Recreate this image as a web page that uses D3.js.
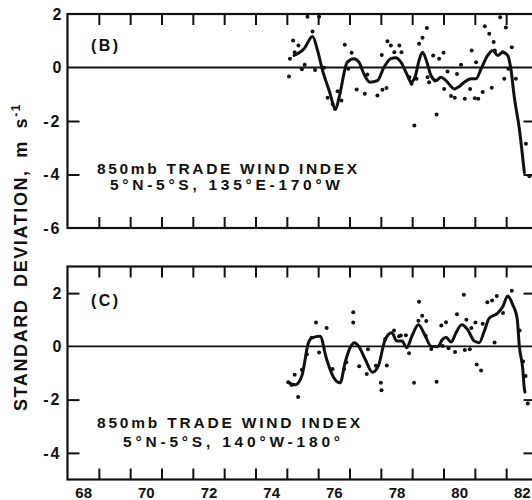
<!DOCTYPE html>
<html><head><meta charset="utf-8">
<script src="https://cdn.jsdelivr.net/npm/d3@7"></script>
<style>
body{margin:0;background:#fff}
text{font-family:"Liberation Sans",Arial,sans-serif;font-weight:bold;fill:#111}
</style>
</head><body>
<svg id="c" width="532" height="500"></svg>
<script>
// ---------- data ----------
const yearTicks = [69,70,71,72,73,74,75,76,77,78,79,80,81,82];
const yearLabels = [68,70,72,74,76,78,80,82];
const yLabelsB = [2,0,-2,-4,-6];
const yMarksB = [-2,-4];
const yLabelsC = [2,0,-2,-4];
const yMarksC = [2,-2,-4];

// Panel B: monthly anomalies (dots) [year, m/s]
const dotsB = [[75.07,-0.34],[75.10,0.33],[75.20,1.01],[75.25,0.57],[75.37,0.82],[75.48,-0.07],[75.57,0.10],[75.66,1.90],[75.82,1.35],[75.90,-0.09],[76.03,1.90],
[76.19,-0.01],[76.30,-1.13],[76.46,-1.36],[76.54,-1.55],[76.62,-0.89],[76.74,-1.23],[76.85,0.85],[76.96,-0.05],[77.07,0.55],[77.23,-0.82],[77.49,-0.98],[77.57,-0.26],
[77.89,-1.05],[78.05,-0.83],[78.18,-0.77],[78.03,0.47],[78.21,0.98],[78.32,0.82],[78.43,0.57],[78.59,0.82],[78.66,0.57],[78.91,-0.36],[78.98,-0.61],[79.07,-2.17],
[79.14,-0.42],[79.22,0.89],[79.33,1.11],[79.47,1.48],[79.49,-0.36],[79.54,-0.55],[79.67,0.45],[79.73,-0.49],[79.78,-1.76],[79.86,0.33],[80.00,0.55],[80.02,-0.80],[80.13,-0.15],
[80.24,-1.07],[80.36,-1.13],[80.43,-0.24],[80.56,0.10],[80.68,-1.17],[80.85,-0.80],[80.90,0.64],[81.00,-1.15],[81.04,0.20],[81.11,-1.17],[81.25,-0.92],[81.32,1.54],
[81.46,1.26],[81.54,-0.76],[81.60,0.95],[81.64,0.64],[81.81,1.88],[81.89,0.57],[81.94,-0.42],[81.99,1.50],[82.07,-0.05],[82.18,0.76],[82.31,-0.42],[82.63,-2.85],[82.74,-4.07]];
// Panel B: smoothed curve
const curveB = [[75.23,0.45],[75.55,0.70],[75.82,1.16],[75.98,0.64],[76.14,-0.11],[76.35,-0.86],[76.56,-1.55],[76.67,-1.11],[76.93,0.20],[77.14,0.33],[77.30,0.20],
[77.46,-0.24],[77.65,-0.55],[77.89,-0.49],[78.10,0.01],[78.32,0.33],[78.48,0.36],[78.64,0.20],[78.85,-0.30],[78.96,-0.55],[79.09,-0.36],[79.22,0.26],[79.33,0.57],
[79.47,0.20],[79.60,-0.30],[79.76,-0.49],[79.92,-0.36],[80.08,-0.49],[80.35,-0.80],[80.50,-0.71],[80.66,-0.55],[80.88,-0.42],[81.04,-0.42],[81.20,-0.05],[81.41,0.45],
[81.57,0.64],[81.73,0.45],[81.89,0.57],[82.05,0.45],[82.15,-0.05],[82.26,-1.11],[82.42,-2.29],[82.58,-3.93]];

// Panel C
const dotsC = [[75.05,-1.35],[75.15,-1.45],[75.25,-1.07],[75.36,-1.90],[75.48,-0.88],[75.64,-0.30],[75.79,0.32],[75.93,0.90],[76.03,-0.23],[76.27,0.69],[76.46,-0.85],
[76.83,-0.85],[76.90,-0.60],[77.12,1.28],[77.12,0.90],[77.31,-0.75],[77.55,-1.04],[77.59,-0.11],[77.84,-0.73],[78.00,-1.37],[78.02,-1.65],[78.14,0.28],[78.19,-0.72],
[78.42,0.60],[78.58,0.38],[78.64,0.41],[78.80,0.42],[78.90,-0.26],[79.06,-1.37],[79.20,0.96],[79.22,1.68],[79.32,1.15],[79.45,0.95],[79.43,0.40],[79.61,-0.10],
[79.78,-1.33],[79.93,0.78],[80.08,0.91],[79.97,0.01],[80.16,-0.07],[80.37,-0.21],[80.43,1.21],[80.65,1.94],[80.73,1.00],[80.68,-0.14],[80.84,-0.11],[80.89,0.69],
[81.02,0.90],[81.06,-0.68],[81.20,-0.91],[81.25,0.85],[81.40,1.66],[81.55,1.72],[81.63,0.15],[81.70,1.89],[81.90,1.25],[82.18,2.09],[82.43,0.60],[82.54,-0.57],
[82.62,-1.11],[82.69,-2.15]];
const curveC = [[75.03,-1.35],[75.27,-1.44],[75.48,-1.10],[75.69,0.14],[75.80,0.32],[76.06,0.38],[76.27,-0.48],[76.49,-1.16],[76.70,-1.37],[76.86,-0.60],[77.02,-0.05],
[77.16,0.14],[77.29,0.01],[77.50,-0.48],[77.73,-0.97],[77.92,-0.73],[78.14,0.26],[78.35,0.51],[78.51,0.20],[78.67,0.20],[78.83,-0.05],[78.99,0.38],[79.20,0.81],
[79.40,0.44],[79.60,0.01],[79.81,-0.01],[79.97,0.26],[80.08,0.34],[80.24,0.16],[80.40,0.51],[80.58,0.81],[80.77,0.63],[80.98,0.20],[81.14,0.14],[81.30,0.57],
[81.46,1.06],[81.73,1.25],[81.89,1.49],[82.05,1.89],[82.21,1.56],[82.35,1.06],[82.42,0.01],[82.53,-0.85],[82.58,-1.59],[82.60,-1.72]];

const labelB = "(B)", labelC = "(C)";
const titleB = ["850mb TRADE WIND INDEX","5°N-5°S, 135°E-170°W"];
const titleC = ["850mb TRADE WIND INDEX","5°N-5°S, 140°W-180°"];

// ---------- drawing ----------
const svg = d3.select("#c");
svg.append("rect").attr("width",532).attr("height",500).attr("fill","#fff");
const ink = "#111";
const x = d3.scaleLinear().domain([68,83]).range([67.5,537.5]);

function panel(o){
  const y = d3.scaleLinear().domain(o.ydom).range(o.yrange);
  const g = svg.append("g");
  const top = o.yrange[1], bot = o.yrange[0];
  g.append("rect").attr("x",x(68)).attr("y",top).attr("width",x(83)-x(68)).attr("height",bot-top)
    .attr("fill","none").attr("stroke",ink).attr("stroke-width",2.2);
  g.append("line").attr("x1",x(68)).attr("x2",x(83)).attr("y1",y(0)).attr("y2",y(0))
    .attr("stroke",ink).attr("stroke-width",1.8);
  const ax1 = g.append("g").attr("transform",`translate(0,${top})`)
    .call(d3.axisBottom(x).tickValues(yearTicks).tickSize(11).tickFormat(""));
  const ax2 = g.append("g").attr("transform",`translate(0,${bot})`)
    .call(d3.axisTop(x).tickValues(yearTicks).tickSize(11).tickFormat(""));
  const ax3 = g.append("g").attr("transform",`translate(${x(68)},0)`)
    .call(d3.axisRight(y).tickValues(o.marks).tickSize(12).tickFormat(""));
  const ax4 = g.append("g").attr("transform",`translate(${x(83)},0)`)
    .call(d3.axisLeft(y).tickValues(o.marks).tickSize(14).tickFormat(""));
  [ax1,ax2,ax3,ax4].forEach(a=>{a.select(".domain").remove();a.selectAll("line").attr("stroke",ink).attr("stroke-width",2);});
  const ay = g.append("g").attr("transform",`translate(${x(68)},0)`)
    .call(d3.axisLeft(y).tickValues(o.labels).tickSize(0).tickPadding(6).tickFormat(d=>String(d)));
  ay.select(".domain").remove();
  ay.selectAll("text").attr("font-size",16).attr("font-family","'Liberation Sans',Arial,sans-serif")
    .attr("font-weight","bold").attr("fill",ink).attr("letter-spacing",d=>d<0?2:0);
  g.append("path").datum(o.curve)
    .attr("d",d3.line().x(d=>x(d[0])).y(d=>y(d[1])).curve(d3.curveMonotoneX))
    .attr("fill","none").attr("stroke",ink).attr("stroke-width",3).attr("stroke-linejoin","round").attr("stroke-linecap","round");
  g.selectAll("circle.d").data(o.dots).join("circle")
    .attr("cx",d=>x(d[0])).attr("cy",d=>y(d[1])).attr("r",2).attr("fill",ink);
  g.append("text").attr("x",91).attr("y",o.lblY).attr("font-size",16).attr("textLength",27)
    .attr("lengthAdjust","spacing").text(o.label);
  g.append("text").attr("x",97).attr("y",o.t1Y).attr("font-size",15.5).attr("textLength",o.t1L)
    .attr("lengthAdjust","spacing").text(o.title[0]);
  g.append("text").attr("x",o.t2X).attr("y",o.t2Y).attr("font-size",15.5).attr("textLength",o.t2L)
    .attr("lengthAdjust","spacing").text(o.title[1]);
  return y;
}

panel({ydom:[-6,2], yrange:[228,14], marks:yMarksB, labels:yLabelsB, curve:curveB, dots:dotsB,
  label:labelB, lblY:50.5, title:titleB, t1Y:173.5, t1L:260, t2X:110, t2Y:190, t2L:230});
panel({ydom:[-5,3], yrange:[479.5,266.5], marks:yMarksC, labels:yLabelsC, curve:curveC, dots:dotsC,
  label:labelC, lblY:306, title:titleC, t1Y:427.5, t1L:263, t2X:123, t2Y:446.5, t2L:217});

// x labels (centred on each year)
const axl = svg.append("g").attr("transform","translate(0,479.5)")
  .call(d3.axisBottom(x).tickValues(yearLabels.map(d=>d+0.5)).tickSize(0).tickPadding(8).tickFormat(d=>String(Math.floor(d))));
axl.select(".domain").remove();
axl.selectAll("text").attr("font-size",15).attr("font-family","'Liberation Sans',Arial,sans-serif")
  .attr("font-weight","bold").attr("fill",ink);

// y title
const yt = svg.append("text").attr("transform","translate(26.5,257) rotate(-90)")
  .attr("text-anchor","middle").attr("font-size",18).attr("letter-spacing",1.6).attr("word-spacing",5);
yt.append("tspan").text("STANDARD DEVIATION, m s");
yt.append("tspan").attr("font-size",12).attr("dy",-7).text("-1");
</script>
</body></html>
